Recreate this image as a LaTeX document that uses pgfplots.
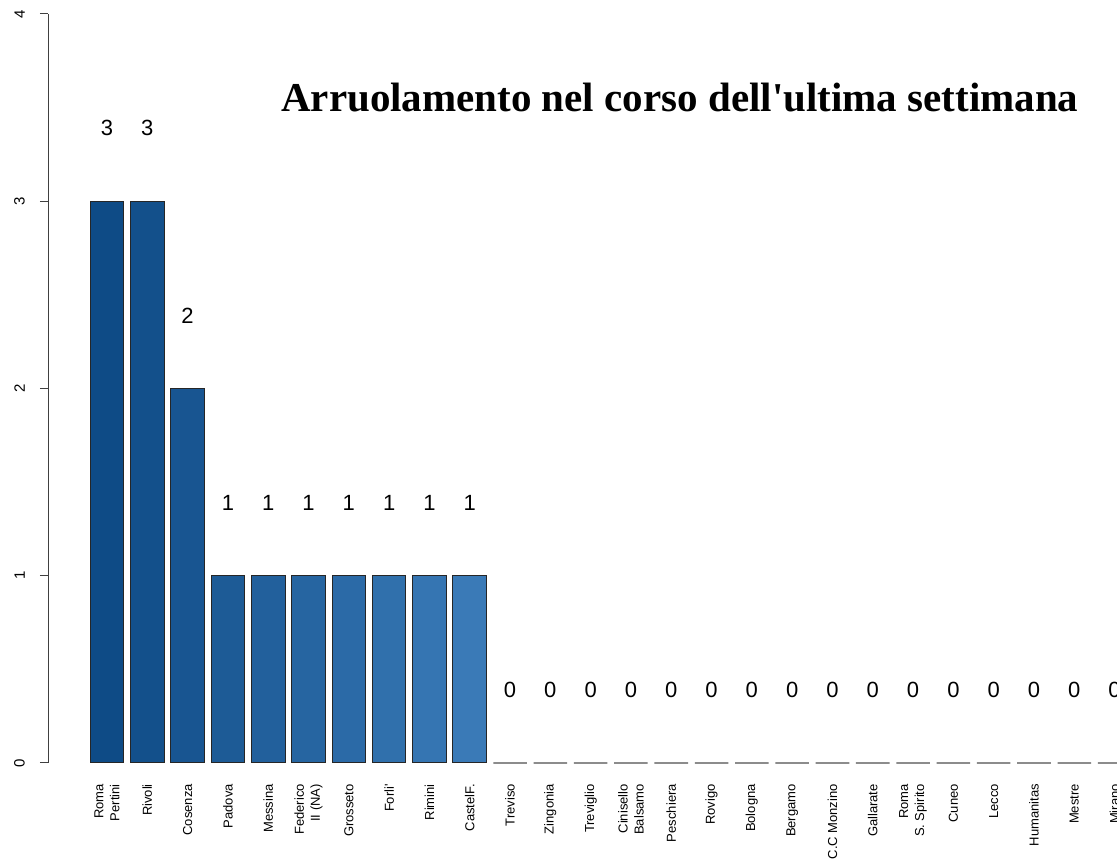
\documentclass[border=0pt]{standalone}
\usepackage{fontspec}
\setmainfont{Liberation Sans}
\newfontfamily\titlefont{Liberation Serif}
\usepackage{pgfplots}
\pgfplotsset{compat=1.18}

% one shade per non-zero bar, dark to light
\definecolor{b1}{RGB}{14,75,134}
\definecolor{b2}{RGB}{19,80,139}
\definecolor{b3}{RGB}{24,85,145}
\definecolor{b4}{RGB}{29,91,150}
\definecolor{b5}{RGB}{34,96,156}
\definecolor{b6}{RGB}{38,101,161}
\definecolor{b7}{RGB}{43,106,167}
\definecolor{b8}{RGB}{48,112,172}
\definecolor{b9}{RGB}{53,117,178}
\definecolor{b10}{RGB}{58,122,183}
\definecolor{zerobar}{RGB}{140,140,140}

\pgfplotsset{
  bar/.style={ybar, bar width=0.833, bar shift=0pt, draw=black!85, line width=1pt, fill=#1},
}

\begin{document}
\begin{tikzpicture}
\useasboundingbox (0,0) rectangle (1117pt,867pt);
\clip (0,0) rectangle (1117pt,867pt);
\begin{axis}[
    at={(48pt,104pt)}, anchor=south west,
    scale only axis, width=1069pt, height=749pt,
    xmin=-1.464, xmax=25.06,
    ymin=0, ymax=4,
    clip=false,
    axis y line*=left,
    axis x line*=bottom,
    x axis line style={draw=none},
    major x tick style={draw=none},
    y axis line style={black!75, line width=1pt},
    major y tick style={black!75, line width=1pt},
    tick align=outside,
    major tick length=8pt,
    ytick={0,1,2,3,4},
    /pgf/number format/assume math mode=true,
    yticklabel shift=15pt,
    yticklabel style={rotate=90, anchor=south, inner sep=0pt, font=\fontsize{15}{17}\selectfont},
    xtick={0,...,25},
    xticklabels={{Roma\\Pertini},Rivoli,Cosenza,Padova,Messina,{Federico\\II (NA)},Grosseto,Forli\textquotesingle,Rimini,CastelF.,Treviso,Zingonia,Treviglio,{Cinisello\\Balsamo},Peschiera,Rovigo,Bologna,Bergamo,C.C Monzino,Gallarate,{Roma\\S. Spirito},Cuneo,Lecco,Humanitas,Mestre,Mirano},
    xticklabel shift=13pt,
    xticklabel style={rotate=90, anchor=east, align=right, inner sep=0pt, font=\fontsize{13}{16}\selectfont},
    title={Arruolamento nel corso dell\textquotesingle ultima settimana},
    title style={at={(rel axis cs:0.591,0.862)}, anchor=base, font=\titlefont\bfseries\fontsize{41}{46}\selectfont},
]
\addplot[bar=b1]  coordinates {(0,3)};
\addplot[bar=b2]  coordinates {(1,3)};
\addplot[bar=b3]  coordinates {(2,2)};
\addplot[bar=b4]  coordinates {(3,1)};
\addplot[bar=b5]  coordinates {(4,1)};
\addplot[bar=b6]  coordinates {(5,1)};
\addplot[bar=b7]  coordinates {(6,1)};
\addplot[bar=b8]  coordinates {(7,1)};
\addplot[bar=b9]  coordinates {(8,1)};
\addplot[bar=b10] coordinates {(9,1)};
% zero bars show only as a grey line
\addplot[ybar, bar width=0.833, bar shift=0pt, draw=zerobar, line width=2pt] coordinates {
  (10,0) (11,0) (12,0) (13,0) (14,0) (15,0) (16,0) (17,0)
  (18,0) (19,0) (20,0) (21,0) (22,0) (23,0) (24,0) (25,0)};
% value labels above every bar
\addplot[ybar, bar width=0.833, bar shift=0pt, draw=none, fill=none,
  nodes near coords,
  every node near coord/.append style={anchor=center, yshift=73pt, inner sep=0pt,
    font=\fontsize{22}{24}\selectfont},
  ] coordinates {
  (0,3) (1,3) (2,2) (3,1) (4,1) (5,1) (6,1) (7,1) (8,1) (9,1)
  (10,0) (11,0) (12,0) (13,0) (14,0) (15,0) (16,0) (17,0)
  (18,0) (19,0) (20,0) (21,0) (22,0) (23,0) (24,0) (25,0)};
\end{axis}
\end{tikzpicture}
\end{document}
